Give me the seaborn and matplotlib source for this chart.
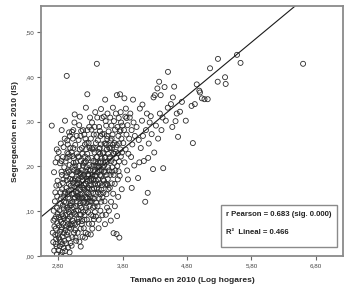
import matplotlib
matplotlib.use("Agg")
import matplotlib.pyplot as plt
import seaborn as sns
import pandas as pd
from matplotlib.patches import Rectangle

# ---- data (x = log hogares, y = IS) ----
band_a = [(2.703,0.291),(2.718,0.052),(2.726,0.031),(2.741,0.012),(2.747,0.083),(2.758,0.142),(2.765,0.061),
          (2.771,0.038),(2.779,0.021),(2.784,0.107),(2.789,0.073),(2.793,0.168),(2.762,0.209),(2.781,0.238),
          (2.738,0.187),(2.796,0.094),(2.752,0.122),(2.774,0.157),(2.791,0.219),(2.733,0.101),(2.763,0.027),
          (2.782,0.004),(2.799,0.048),(2.757,0.047),(2.744,0.066),(2.769,0.088),(2.787,0.133),(2.729,0.079)]
band_b = [(2.806,0.013),(2.812,0.041),(2.817,0.068),(2.823,0.102),(2.828,0.022),(2.833,0.054),(2.838,0.081),
          (2.842,0.128),(2.847,0.031),(2.851,0.059),(2.853,0.188),(2.857,0.281),(2.861,0.093),(2.864,0.149),
          (2.868,0.009),(2.871,0.043),(2.874,0.113),(2.877,0.221),(2.881,0.072),(2.884,0.171),(2.887,0.243),
          (2.889,0.018),(2.892,0.051),(2.895,0.121),(2.897,0.198),(2.819,0.158),(2.831,0.207),(2.843,0.251),
          (2.809,0.232),(2.859,0.064),(2.879,0.089),(2.844,0.002),(2.899,0.034),(2.902,0.139),(2.904,0.262),
          (2.834,0.117),(2.862,0.181),(2.883,0.131),(2.815,0.087),(2.826,0.037),(2.849,0.076),(2.866,0.026),
          (2.886,0.106),(2.855,0.212),(2.873,0.163),(2.893,0.084),(2.839,0.142)]
band_c = [(2.908,0.302),(2.911,0.011),(2.914,0.058),(2.918,0.091),(2.921,0.119),(2.923,0.178),(2.935,0.402),
          (2.927,0.028),(2.931,0.152),(2.933,0.219),(2.937,0.047),(2.941,0.079),(2.943,0.258),(2.946,0.108),
          (2.949,0.138),(2.952,0.191),(2.955,0.019),(2.958,0.071),(2.961,0.228),(2.964,0.039),(2.967,0.098),
          (2.969,0.161),(2.972,0.276),(2.975,0.063),(2.978,0.128),(2.981,0.203),(2.984,0.088),(2.987,0.172),
          (2.989,0.241),(2.993,0.029),(2.996,0.118),(2.917,0.211),(2.939,0.169),(2.957,0.131),(2.979,0.008),
          (2.951,0.249),(2.913,0.143),(2.971,0.188),(2.992,0.069),(2.929,0.102),(2.947,0.053),(2.983,0.268),
          (2.962,0.104),(2.925,0.066),(2.944,0.231),(2.966,0.146),(2.986,0.113),(2.998,0.157),(2.934,0.186),
          (2.954,0.083),(2.976,0.222)]
band_d = [(3.004,0.061),(3.007,0.148),(3.009,0.232),(3.013,0.092),(3.016,0.181),(3.018,0.277),(3.021,0.042),
          (3.024,0.121),(3.027,0.199),(3.031,0.078),(3.034,0.163),(3.037,0.281),(3.041,0.109),(3.043,0.139),
          (3.046,0.218),(3.049,0.052),(3.052,0.192),(3.058,0.316),(3.061,0.094),(3.064,0.131),(3.067,0.248),
          (3.071,0.071),(3.074,0.173),(3.077,0.209),(3.081,0.034),(3.084,0.111),(3.087,0.152),(3.089,0.268),
          (3.093,0.082),(3.097,0.188),(3.011,0.023),(3.036,0.241),(3.056,0.128),(3.079,0.101),(3.028,0.171),
          (3.048,0.073),(3.069,0.202),(3.006,0.113),(3.091,0.229),(3.054,0.298),(3.072,0.041),(3.099,0.134),
          (3.029,0.262),(3.019,0.139),(3.039,0.208),(3.059,0.168),(3.083,0.187),(3.014,0.071),(3.044,0.097),
          (3.066,0.058),(3.088,0.122),(3.023,0.223),(3.051,0.154),(3.075,0.143),(3.095,0.161)]
band_e = [(3.104,0.052),(3.107,0.141),(3.109,0.222),(3.113,0.102),(3.116,0.171),(3.118,0.259),(3.122,0.083),
          (3.124,0.128),(3.127,0.201),(3.138,0.311),(3.131,0.032),(3.134,0.149),(3.137,0.238),(3.141,0.093),
          (3.144,0.118),(3.147,0.183),(3.151,0.061),(3.154,0.158),(3.157,0.212),(3.159,0.279),(3.163,0.108),
          (3.166,0.139),(3.169,0.191),(3.172,0.078),(3.175,0.129),(3.178,0.228),(3.181,0.043),(3.184,0.169),
          (3.187,0.281),(3.191,0.098),(3.194,0.152),(3.197,0.208),(3.119,0.132),(3.129,0.163),(3.149,0.268),
          (3.168,0.071),(3.179,0.178),(3.189,0.119),(3.111,0.189),(3.139,0.112),(3.161,0.131),(3.199,0.062),
          (3.171,0.241),(3.128,0.292),(3.152,0.021),(3.106,0.169),(3.126,0.221),(3.146,0.137),(3.164,0.176),
          (3.186,0.202),(3.114,0.076),(3.136,0.186),(3.156,0.092),(3.176,0.153),(3.196,0.181)]
band_f = [(3.203,0.121),(3.206,0.182),(3.208,0.271),(3.212,0.091),(3.215,0.148),(3.218,0.222),(3.254,0.361),
          (3.221,0.131),(3.224,0.189),(3.228,0.052),(3.231,0.161),(3.234,0.238),(3.232,0.331),(3.237,0.108),
          (3.241,0.142),(3.244,0.198),(3.247,0.081),(3.251,0.172),(3.255,0.281),(3.258,0.128),(3.261,0.153),
          (3.264,0.218),(3.267,0.098),(3.271,0.179),(3.274,0.252),(3.277,0.072),(3.281,0.138),(3.284,0.203),
          (3.287,0.158),(3.296,0.309),(3.219,0.041),(3.238,0.119),(3.259,0.141),(3.279,0.151),(3.226,0.262),
          (3.268,0.183),(3.289,0.241),(3.209,0.081),(3.249,0.168),(3.298,0.122),(3.262,0.049),(3.283,0.288),
          (3.213,0.209),(3.233,0.211),(3.253,0.228),(3.273,0.121),(3.293,0.191),(3.204,0.158),(3.227,0.102),
          (3.246,0.131),(3.266,0.192),(3.286,0.111),(3.217,0.249),(3.243,0.252),(3.291,0.168)]
band_g = [(3.303,0.131),(3.306,0.191),(3.309,0.262),(3.313,0.092),(3.316,0.158),(3.318,0.219),(3.322,0.122),
          (3.324,0.149),(3.327,0.298),(3.331,0.061),(3.334,0.181),(3.337,0.238),(3.341,0.108),(3.344,0.141),
          (3.347,0.212),(3.351,0.169),(3.354,0.271),(3.357,0.082),(3.361,0.128),(3.364,0.188),(3.367,0.231),
          (3.371,0.098),(3.374,0.161),(3.377,0.321),(3.381,0.139),(3.384,0.201),(3.387,0.252),(3.402,0.429),
          (3.391,0.119),(3.394,0.179),(3.319,0.282),(3.339,0.129),(3.359,0.151),(3.379,0.209),(3.329,0.072),
          (3.349,0.172),(3.369,0.288),(3.389,0.088),(3.308,0.048),(3.362,0.202),(3.311,0.172),(3.326,0.241),
          (3.346,0.089),(3.366,0.111),(3.386,0.168),(3.398,0.221),(3.333,0.201),(3.352,0.242),(3.372,0.178),
          (3.396,0.271)]
band_h = [(3.404,0.151),(3.407,0.221),(3.409,0.309),(3.413,0.111),(3.416,0.188),(3.418,0.258),(3.422,0.142),
          (3.424,0.171),(3.427,0.232),(3.431,0.081),(3.434,0.198),(3.437,0.288),(3.441,0.128),(3.444,0.162),
          (3.447,0.241),(3.451,0.181),(3.454,0.209),(3.457,0.101),(3.461,0.138),(3.464,0.249),(3.467,0.328),
          (3.471,0.121),(3.474,0.191),(3.477,0.218),(3.481,0.158),(3.484,0.272),(3.487,0.091),(3.491,0.199),
          (3.429,0.062),(3.449,0.279),(3.469,0.178),(3.489,0.131),(3.419,0.159),(3.439,0.239),(3.459,0.268),
          (3.479,0.308),(3.412,0.201),(3.432,0.149),(3.452,0.228),(3.472,0.148),(3.494,0.229),(3.498,0.171),
          (3.426,0.208),(3.446,0.191),(3.466,0.211)]
band_i = [(3.503,0.141),(3.506,0.231),(3.509,0.311),(3.513,0.168),(3.516,0.202),(3.518,0.272),(3.522,0.122),
          (3.531,0.349),(3.527,0.219),(3.531,0.159),(3.534,0.188),(3.537,0.251),(3.541,0.092),(3.544,0.209),
          (3.547,0.291),(3.551,0.138),(3.554,0.181),(3.557,0.238),(3.561,0.108),(3.564,0.261),(3.567,0.318),
          (3.571,0.172),(3.574,0.198),(3.577,0.228),(3.581,0.149),(3.584,0.278),(3.591,0.191),(3.594,0.241),
          (3.528,0.071),(3.549,0.161),(3.569,0.211),(3.588,0.101),(3.539,0.301),(3.559,0.268),(3.511,0.188),
          (3.533,0.221),(3.553,0.248),(3.573,0.158),(3.597,0.218),(3.521,0.251)]
band_j = [(3.603,0.152),(3.606,0.221),(3.609,0.309),(3.613,0.181),(3.616,0.258),(3.622,0.121),(3.626,0.212),
          (3.629,0.291),(3.633,0.162),(3.637,0.241),(3.642,0.198),(3.646,0.271),(3.651,0.331),(3.655,0.139),
          (3.658,0.229),(3.663,0.181),(3.667,0.301),(3.672,0.208),(3.676,0.252),(3.681,0.111),(3.684,0.282),
          (3.689,0.191),(3.694,0.232),(3.618,0.079),(3.661,0.051),(3.639,0.188),(3.679,0.161),(3.697,0.318),
          (3.611,0.241),(3.631,0.262),(3.653,0.248),(3.671,0.228)]
band_k = [(3.712,0.359),(3.708,0.049),(3.716,0.089),(3.711,0.248),(3.719,0.201),(3.722,0.288),(3.727,0.171),
          (3.731,0.229),(3.736,0.268),(3.741,0.308),(3.746,0.211),(3.749,0.251),(3.762,0.361),(3.757,0.179),
          (3.766,0.238),(3.769,0.281),(3.774,0.222),(3.778,0.298),(3.783,0.262),(3.788,0.149),(3.792,0.231),
          (3.797,0.291),(3.733,0.132),(3.771,0.321),(3.751,0.041),(3.704,0.219),(3.739,0.189),(3.759,0.278)]
band_l = [(3.812,0.252),(3.823,0.281),(3.831,0.209),(3.844,0.311),(3.852,0.329),(3.848,0.238),(3.861,0.271),
          (3.872,0.191),(3.878,0.292),(3.891,0.228),(3.903,0.262),(3.912,0.309),(3.921,0.318),(3.933,0.221),
          (3.941,0.281),(3.952,0.249),(3.963,0.349),(3.971,0.298),(3.982,0.202),(3.991,0.268),(3.829,0.352),
          (3.884,0.171),(3.943,0.152),(3.862,0.308)]
band_m = [(4.018,0.288),(4.041,0.174),(4.052,0.259),(4.069,0.329),(4.083,0.241),(4.102,0.302),(4.117,0.268),
          (4.131,0.212),(4.152,0.121),(4.163,0.281),(4.178,0.318),(4.191,0.141),(4.207,0.251),(4.221,0.298),
          (4.238,0.312),(4.252,0.272),(4.273,0.194),(4.281,0.354),(4.292,0.231),(4.109,0.338),(4.198,0.219),
          (4.061,0.209)]
band_n = [(4.301,0.359),(4.318,0.291),(4.341,0.374),(4.352,0.262),(4.368,0.389),(4.379,0.318),(4.392,0.359),
          (4.404,0.281),(4.431,0.196),(4.452,0.377),(4.471,0.302),(4.502,0.331),(4.505,0.411),(4.551,0.339),
          (4.581,0.354),(4.601,0.378),(4.622,0.301),(4.641,0.318),(4.661,0.266),(4.691,0.322),(4.421,0.309),
          (4.572,0.288)]
band_o = [(4.721,0.344),(4.781,0.302),(4.871,0.335),(4.891,0.252),(4.921,0.339),(4.951,0.383),(4.991,0.369),
          (5.002,0.365),(5.031,0.352),(5.071,0.350),(5.121,0.350),(5.157,0.419),(5.28,0.440),(5.276,0.389),
          (5.39,0.399),(5.40,0.384),(5.575,0.449),(5.63,0.431),(6.60,0.429)]

fit_intercept = -0.216
fit_slope = 0.1195

x_ticks = [2.8, 3.8, 4.8, 5.8, 6.8]
x_tick_labels = ["2,80", "3,80", "4,80", "5,80", "6,80"]
y_ticks = [0.0, 0.1, 0.2, 0.3, 0.4, 0.5]
y_tick_labels = [",00", ",10", ",20", ",30", ",40", ",50"]
stat_lines = ["r Pearson = 0.683 (sig. 0.000)", "R\u00b2  Lineal = 0.466"]

points = (band_a + band_b + band_c + band_d + band_e + band_f + band_g + band_h +
          band_i + band_j + band_k + band_l + band_m + band_n + band_o)
df = pd.DataFrame(points, columns=["tamano", "segregacion"])

# ---- plot ----
sns.set_style("white")
plt.rcParams["font.family"] = ["Liberation Sans", "DejaVu Sans"]

fig = plt.figure(figsize=(3.48, 2.90), dpi=100)
ax = fig.add_axes([41/348, 34/290, 302/348, 250/290])

sns.scatterplot(data=df, x="tamano", y="segregacion", ax=ax, marker="o", s=13,
                facecolor="none", edgecolor="#2a2a2a", linewidth=0.6)
ax.axline((0, fit_intercept), slope=fit_slope, color="#1a1a1a", lw=0.8)

ax.set_xlim(2.536, 7.219)
ax.set_ylim(0, 0.558)
ax.set_xticks(x_ticks)
ax.set_xticklabels(x_tick_labels)
ax.set_yticks(y_ticks)
ax.set_yticklabels(y_tick_labels)
ax.tick_params(axis="both", which="major", labelsize=4.5, labelcolor="#444444",
               length=3, width=0.8, color="#666666", direction="out", pad=2)
ax.tick_params(bottom=True, left=True)

for sp in ax.spines.values():
    sp.set_color("#8a8a8a")
    sp.set_linewidth(1.3)

ax.set_xlabel("Tamaño en 2010 (Log hogares)", fontsize=6, fontweight="bold")
ax.set_ylabel("Segregación en 2010 (IS)", fontsize=6, fontweight="bold")
ax.xaxis.set_label_coords(0.5, -0.084)
ax.yaxis.set_label_coords(-22/302, 0.5)

ax.add_patch(Rectangle((0.596, 0.036), 0.384, 0.168, transform=ax.transAxes,
                       facecolor="white", edgecolor="#8a8a8a", lw=1.0, zorder=5))
ax.text(0.613, 0.168, stat_lines[0], transform=ax.transAxes, fontsize=5.6,
        fontweight="bold", va="center", ha="left", color="#222222", zorder=6)
ax.text(0.613, 0.096, stat_lines[1], transform=ax.transAxes, fontsize=5.6,
        fontweight="bold", va="center", ha="left", color="#222222", zorder=6)

fig.savefig("out.png", dpi=100, facecolor="white")
